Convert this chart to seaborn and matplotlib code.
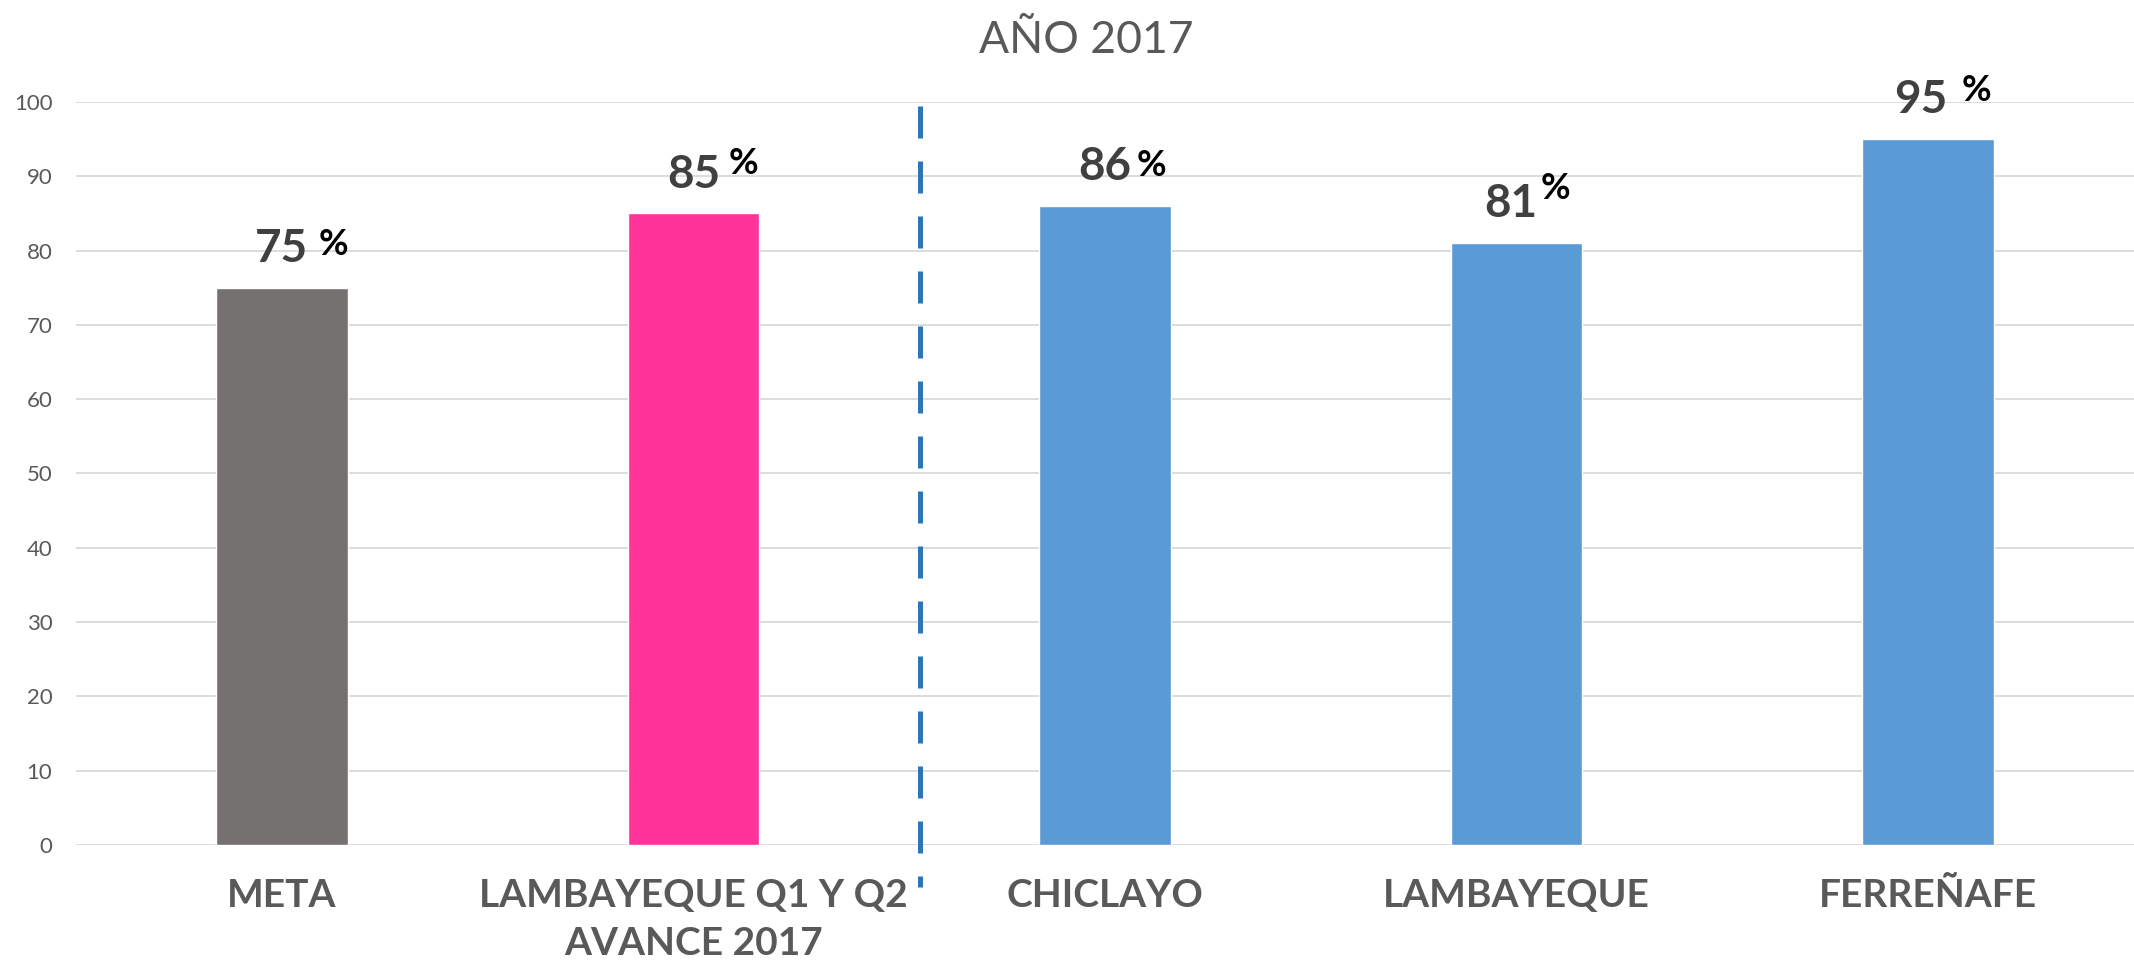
import numpy as np
import pandas as pd
import seaborn as sns
import matplotlib.pyplot as plt

categories = ['META', 'LAMBAYEQUE Q1 Y Q2\nAVANCE 2017', 'CHICLAYO', 'LAMBAYEQUE', 'FERREÑAFE']
values = [75, 85, 86, 81, 95]
bar_colors = ['#767171', '#FF3399', '#5B9BD5', '#5B9BD5', '#5B9BD5']
yticks = list(range(0, 101, 10))

# label nudges in pixels: (number dx, % dx, % dy)
label_nudge = [(0, 52, 5), (0, 50, 11), (0, 46, 2), (-6, 39, 16), (-7, 48, 10)]

fam = ['Lato', 'DejaVu Sans']

sns.set_style('white')
df = pd.DataFrame({'cat': categories, 'val': values})

fig = plt.figure(figsize=(21.34, 9.71), dpi=100)
ax = fig.add_axes([0.0356, 0.1298, 0.9644, 0.7652])
sns.barplot(data=df, x='cat', y='val', hue='cat', palette=bar_colors,
            width=0.32, saturation=1, legend=False, ax=ax, zorder=2)

ax.set_xlim(-0.5, 4.5)
ax.set_ylim(0, 100)
ax.set_yticks(yticks)
ax.yaxis.grid(True, color='#D9D9D9', lw=1.3, zorder=0)
ax.set_axisbelow(True)
for s in ax.spines.values():
    s.set_visible(False)
ax.tick_params(axis='both', length=0)
ax.tick_params(axis='y', pad=17)
ax.tick_params(axis='x', pad=24)
ax.set_xlabel('')
ax.set_ylabel('')
for t in ax.get_yticklabels():
    t.set_family(fam)
    t.set_fontsize(16)
    t.set_color('#595959')
for t in ax.get_xticklabels():
    t.set_family(fam)
    t.set_fontsize(28)
    t.set_fontweight('bold')
    t.set_color('#595959')
    t.set_linespacing(1.45)

# value labels
for i, v in enumerate(values):
    ndx, pdx, pdy = label_nudge[i]
    ax.annotate(str(v), xy=(i, v + 5.2), xytext=(ndx * 0.72, 0), textcoords='offset points',
                ha='center', va='center', fontsize=33, fontweight='bold',
                color='#404040', family=fam, annotation_clip=False)
    ax.annotate('%', xy=(i, v + 5.2), xytext=(pdx * 0.72, pdy * 0.72), textcoords='offset points',
                ha='center', va='center', fontsize=26, fontweight='bold',
                color='black', family=fam, annotation_clip=False)

# dashed separator
ax.plot([1.55, 1.55], [99.5, -5.7], color='#2E75B6', lw=3.6,
        dashes=(6.4, 4.6), clip_on=False, zorder=3)

fig.text(0.509, 0.958, 'AÑO 2017', ha='center', va='center', fontsize=32,
         color='#595959', family=fam)

fig.savefig('out.png', dpi=100)
